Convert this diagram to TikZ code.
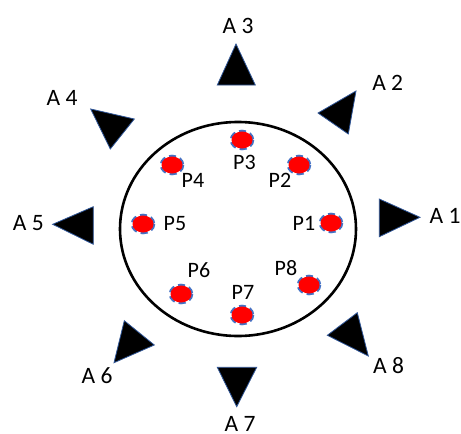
\documentclass[tikz,border=0pt]{standalone}
\usepackage{fontspec}
\setmainfont{Carlito}
\definecolor{triedge}{HTML}{2F5597}
\definecolor{dotedge}{HTML}{4472C4}
\begin{document}
\begin{tikzpicture}[x=1pt,y=-1pt,
  tri/.style={fill=black,draw=triedge,line width=0.8pt,line join=miter},
  dotring/.style={draw=dotedge,line width=2.6pt,dash pattern=on 7pt off 4pt},
  dotfill/.style={fill=red},
  plab/.style={font=\fontsize{22}{22}\selectfont,inner sep=0pt},
  alab/.style={font=\fontsize{23.5}{23.5}\selectfont,inner sep=0pt}]
\useasboundingbox (0,0) rectangle (461,434);
% outer ring
\draw[line width=2.6pt] (238,229) ellipse [x radius=118, y radius=107];
% markers
\foreach \n/\x/\y in {1/331/223,2/299/165,3/242/140,4/172/165,5/143/224,6/181/294,7/242/315,8/309/285}{
  \path[dotring] (\x,\y) ellipse [x radius=11, y radius=9];
  \path[dotfill] (\x,\y) ellipse [x radius=10.5, y radius=8.5];
}
% marker labels
\node[plab] (p1) at (304,223) {P1};
\node[plab] (p2) at (280,180) {P2};
\node[plab] (p3) at (244.5,162) {P3};
\node[plab] (p4) at (193,180) {P4};
\node[plab] (p5) at (175,224) {P5};
\node[plab] (p6) at (199,270) {P6};
\node[plab] (p7) at (243,292) {P7};
\node[plab] (p8) at (286,268) {P8};
% triangles
\path[tri] (236,44) -- (217.3,85) -- (255.3,85) -- cycle;
\path[tri] (318,113) -- (356,91) -- (348.3,134) -- cycle;
\path[tri] (379.3,199) -- (379.3,236.7) -- (420,217.3) -- cycle;
\path[tri] (357.3,312.7) -- (327.3,335.3) -- (368.3,356) -- cycle;
\path[tri] (217.3,367.3) -- (256.7,367.3) -- (236.7,406.7) -- cycle;
\path[tri] (124.3,320.7) -- (154.3,345) -- (114,362.7) -- cycle;
\path[tri] (52.7,224.3) -- (93.3,206.7) -- (93.3,244.3) -- cycle;
\path[tri] (90.7,109) -- (134.3,119) -- (110.3,149) -- cycle;
% triangle labels
\node[alab] (a1) at (445,216) {A 1};
\node[alab] (a2) at (387.7,82.5) {A 2};
\node[alab] (a3) at (238,25.5) {A 3};
\node[alab] (a4) at (62,97.5) {A 4};
\node[alab] (a5) at (28.3,223.5) {A 5};
\node[alab] (a6) at (97,375.5) {A 6};
\node[alab] (a7) at (240,424) {A 7};
\node[alab] (a8) at (388.5,366) {A 8};
\end{tikzpicture}
\end{document}
